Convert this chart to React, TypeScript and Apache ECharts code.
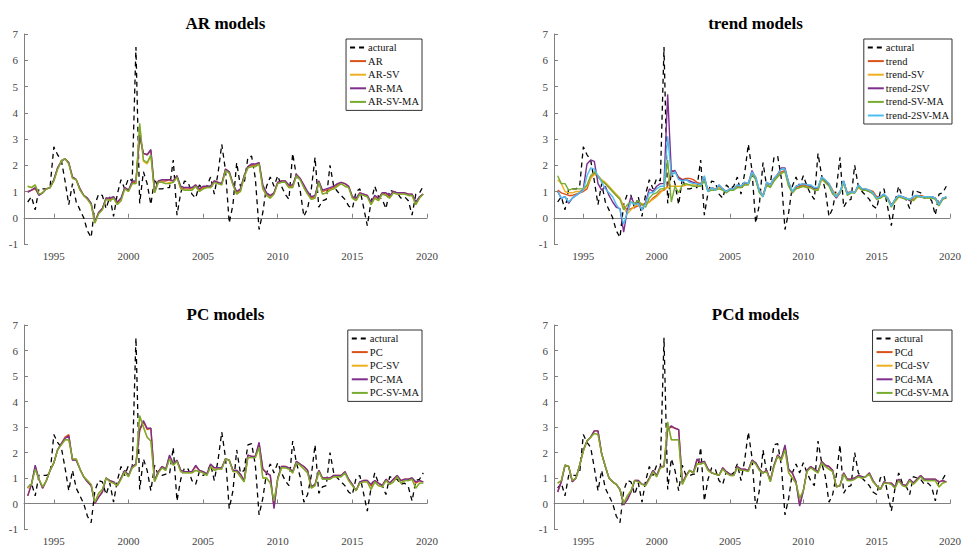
import React, { useEffect, useRef } from "react";
import * as echarts from "echarts";

// Quarterly observations, 1993Q2 .. 2019Q4 (plotted at year + (q-1)/4)
const startYear = 1993.25;
const xTicks = [1995, 2000, 2005, 2010, 2015, 2020];
const titles = ["AR models", "trend models", "PC models", "PCd models"];

const actual = [
  0.6, 0.8, 0.3,
  1.1, 1.1, 1.1, 1.2,
  2.7, 2.4, 2.2, 1.4,
  0.5, 1.3, 0.6, 0.3,
  0.0, -0.5, -0.75, 0.5,
  0.9, 0.85, 0.35, 0.8,
  0.05, 0.9, 1.45, 1.1,
  1.5, 1.4, 6.5, 0.55,
  1.75, 1.3, 0.5, 1.5,
  1.1, 1.1, 1.15, 1.15,
  2.2, 0.1, 0.95, 1.4,
  1.35, 0.9, 0.75, 1.25,
  1.1, 1.2, 1.55, 0.9,
  1.7, 2.8, 1.8, -0.2,
  0.5, 2.1, 1.2, 1.3,
  2.3, 2.35, 1.5, -0.45,
  0.2, 1.2, 1.55, 1.2,
  1.6, 1.2, 0.9, 0.7,
  2.45, 1.6, 1.05, 0.05,
  0.35, 1.1, 2.3, 0.4,
  0.65, 0.7, 2.0, 1.2,
  1.0, 0.85, 0.7, 0.45,
  0.35, 1.0, 1.1, 0.4,
  -0.3, 0.6, 1.2, 0.8,
  0.7, 0.35, 1.05, 1.0,
  0.95, 0.75, 0.8, 0.65,
  0.1, 0.9, 0.95, 1.2,
];

// ---- AR models ----
const arAR = [
  1.0, 1.05, 1.1,
  0.88, 0.95, 1.1, 1.15,
  1.45, 1.9, 2.15, 2.25,
  2.1, 1.55, 1.45, 1.1,
  0.85, 0.75, 0.55, -0.15,
  0.2, 0.35, 0.75, 0.7,
  0.8, 0.55, 0.7, 1.15,
  1.05, 1.35, 1.35, 3.1,
  2.45, 2.4, 2.55, 1.0,
  1.4, 1.4, 1.4, 1.45,
  1.4, 1.6, 1.15, 1.1,
  1.1, 1.1, 1.25, 1.05,
  1.15, 1.2, 1.2, 1.4,
  1.35, 1.3, 1.85, 1.75,
  1.3, 0.95, 1.05, 1.6,
  1.95, 2.0, 2.0, 2.1,
  1.2, 0.9, 0.8, 0.95,
  1.35, 1.4, 1.4, 1.2,
  1.2, 1.65, 1.5, 1.2,
  0.95, 0.75, 0.8, 1.4,
  1.0, 1.05, 1.1, 1.15,
  1.25, 1.35, 1.3, 1.2,
  0.8, 0.7, 0.95, 0.9,
  0.85, 0.55, 0.8, 0.7,
  0.95, 0.9, 0.8, 1.0,
  0.95, 0.95, 0.95, 0.9,
  0.9, 0.55, 0.8, 0.9,
];
const arSV = [
  1.2, 1.15, 1.25,
  0.9, 0.95, 1.1, 1.15,
  1.4, 1.85, 2.15, 2.25,
  2.05, 1.5, 1.45, 1.05,
  0.85, 0.7, 0.5, -0.2,
  0.15, 0.3, 0.7, 0.65,
  0.75, 0.5, 0.65, 1.1,
  1.0, 1.3, 1.3, 3.5,
  2.15, 2.05, 2.35, 0.95,
  1.35, 1.35, 1.3, 1.35,
  1.35, 1.55, 1.1, 1.05,
  1.05, 1.05, 1.2, 1.0,
  1.1, 1.15, 1.15, 1.35,
  1.3, 1.25, 1.8, 1.7,
  1.25, 0.9, 1.0, 1.55,
  1.9, 1.95, 1.95, 2.05,
  1.1, 0.85, 0.75, 0.9,
  1.3, 1.35, 1.35, 1.15,
  1.15, 1.6, 1.45, 1.15,
  0.9, 0.7, 0.75, 1.35,
  0.9, 0.95, 1.05, 1.1,
  1.2, 1.3, 1.2, 1.15,
  0.75, 0.65, 0.9, 0.85,
  0.8, 0.5, 0.75, 0.65,
  0.9, 0.85, 0.75, 0.95,
  0.9, 0.9, 0.9, 0.85,
  0.85, 0.5, 0.75, 0.9,
];
const arMA = [
  0.97, 1.05, 1.15,
  0.85, 0.95, 1.1, 1.15,
  1.45, 1.9, 2.15, 2.25,
  2.1, 1.55, 1.45, 1.1,
  0.85, 0.75, 0.55, -0.15,
  0.2, 0.35, 0.75, 0.75,
  0.8, 0.6, 0.75, 1.15,
  1.05, 1.4, 1.4, 3.15,
  2.45, 2.4, 2.6, 1.0,
  1.4, 1.45, 1.45, 1.45,
  1.4, 1.6, 1.2, 1.15,
  1.15, 1.15, 1.25, 1.1,
  1.2, 1.2, 1.2, 1.4,
  1.35, 1.3, 1.85, 1.75,
  1.3, 1.0, 1.1, 1.6,
  1.95, 2.05, 2.05, 2.1,
  1.25, 0.95, 0.85, 0.95,
  1.35, 1.4, 1.4, 1.25,
  1.25, 1.65, 1.5, 1.25,
  1.0, 0.8, 0.85, 1.4,
  1.05, 1.1, 1.15, 1.2,
  1.3, 1.35, 1.3, 1.2,
  0.8, 0.75, 0.95, 0.9,
  0.85, 0.6, 0.85, 0.75,
  0.95, 0.95, 0.85, 1.0,
  0.95, 0.95, 0.95, 0.9,
  0.9, 0.6, 0.8, 0.9,
];
const arSVMA = [
  1.2, 1.15, 1.25,
  0.9, 0.95, 1.1, 1.15,
  1.4, 1.85, 2.15, 2.25,
  2.05, 1.5, 1.45, 1.05,
  0.85, 0.7, 0.5, -0.2,
  0.15, 0.3, 0.7, 0.65,
  0.75, 0.5, 0.65, 1.1,
  1.0, 1.3, 1.3, 3.6,
  2.2, 2.1, 2.4, 0.95,
  1.35, 1.35, 1.3, 1.3,
  1.35, 1.55, 1.1, 1.05,
  1.05, 1.05, 1.2, 1.0,
  1.1, 1.15, 1.15, 1.35,
  1.3, 1.25, 1.8, 1.7,
  1.25, 0.9, 1.0, 1.55,
  1.9, 1.95, 1.95, 2.05,
  1.1, 0.85, 0.75, 0.9,
  1.3, 1.35, 1.35, 1.15,
  1.15, 1.6, 1.45, 1.15,
  0.9, 0.7, 0.75, 1.35,
  0.9, 0.95, 1.05, 1.1,
  1.2, 1.3, 1.2, 1.15,
  0.75, 0.65, 0.9, 0.85,
  0.8, 0.5, 0.75, 0.65,
  0.9, 0.85, 0.75, 0.95,
  0.9, 0.9, 0.9, 0.85,
  0.85, 0.5, 0.75, 0.9,
];

// ---- trend models ----
const trTrend = [
  1.05, 0.95, 0.9, 0.85,
  0.85, 0.9, 0.95, 1.0,
  1.1, 1.5, 1.7, 1.55,
  1.4, 1.3, 1.15, 1.0,
  0.85, 0.7, 0.45, 0.3,
  0.35, 0.4, 0.45, 0.5,
  0.55, 0.6, 0.75, 0.85,
  1.0, 1.05, 1.2, 1.8,
  1.75, 1.55, 1.45, 1.5,
  1.5, 1.45, 1.35, 1.3,
  1.5, 1.05, 1.15, 1.1,
  1.2, 1.1, 1.0, 1.1,
  1.1, 1.2, 1.2, 1.3,
  1.3, 1.7, 1.55, 1.05,
  0.85, 1.3, 1.25, 1.45,
  1.65, 1.75, 1.8, 1.35,
  1.0, 1.15, 1.2, 1.25,
  1.2, 1.2, 1.15, 1.1,
  1.5, 1.4, 1.3, 1.05,
  0.85, 1.0, 1.35, 0.95,
  1.0, 0.95, 1.2, 1.1,
  1.1, 1.05, 1.0, 0.8,
  0.8, 0.85, 0.75, 0.5,
  0.65, 0.8, 0.8, 0.75,
  0.7, 0.7, 0.8, 0.85,
  0.8, 0.8, 0.8, 0.75,
  0.55, 0.7, 0.8,
];
const trSV = [
  1.45, 1.3, 1.0, 0.95,
  0.95, 1.0, 1.0, 1.05,
  1.2, 1.5, 1.65, 1.6,
  1.45, 1.35, 1.2, 1.05,
  0.9, 0.75, 0.4, 0.15,
  0.3, 0.45, 0.5, 0.55,
  0.5, 0.6, 0.7, 0.8,
  0.95, 1.1, 1.15, 1.2,
  1.2, 1.2, 1.2, 1.25,
  1.25, 1.25, 1.25, 1.25,
  1.45, 1.05, 1.1, 1.1,
  1.15, 1.05, 1.0, 1.05,
  1.1, 1.15, 1.15, 1.25,
  1.3, 1.65, 1.5, 1.0,
  0.85, 1.25, 1.2, 1.4,
  1.6, 1.7, 1.75, 1.2,
  0.95, 1.1, 1.15, 1.2,
  1.15, 1.15, 1.1, 1.05,
  1.45, 1.35, 1.25, 1.0,
  0.85, 0.95, 1.3, 0.9,
  0.95, 0.95, 1.15, 1.05,
  1.05, 1.0, 0.95, 0.75,
  0.75, 0.85, 0.75, 0.45,
  0.6, 0.8, 0.8, 0.7,
  0.7, 0.65, 0.8, 0.8,
  0.8, 0.75, 0.75, 0.75,
  0.5, 0.7, 0.75,
];
const tr2SV = [
  1.0, 0.75, 0.8, 0.55,
  0.75, 0.85, 0.95, 1.1,
  2.05, 2.2, 2.15, 1.3,
  1.05, 1.2, 0.85, 0.6,
  0.4, 0.35, -0.55, 0.3,
  0.8, 0.5, 0.6, 0.3,
  0.6, 1.1, 1.0, 1.2,
  1.3, 1.3, 4.7, 1.75,
  1.8, 1.5, 1.45, 1.45,
  1.4, 1.35, 1.3, 1.25,
  1.55, 1.0, 1.15, 1.05,
  1.25, 1.1, 1.0, 1.1,
  1.1, 1.25, 1.2, 1.35,
  1.3, 1.8, 1.5, 1.0,
  0.8, 1.35, 1.25, 1.5,
  1.65, 1.9, 1.9, 1.3,
  0.95, 1.2, 1.25, 1.3,
  1.25, 1.2, 1.1, 1.15,
  1.55, 1.4, 1.25, 0.95,
  0.75, 0.95, 1.4, 0.9,
  1.0, 0.95, 1.25, 1.1,
  1.05, 1.0, 0.95, 0.75,
  0.8, 0.9, 0.75, 0.45,
  0.7, 0.85, 0.8, 0.75,
  0.65, 0.8, 0.85, 0.8,
  0.8, 0.8, 0.8, 0.75,
  0.5, 0.75, 0.75,
];
const trSVMA = [
  1.6, 1.3, 1.3, 1.05,
  1.1, 1.1, 1.1, 1.1,
  1.25, 1.6, 1.75, 1.6,
  1.4, 1.3, 1.15, 1.0,
  0.85, 0.7, 0.3, 0.5,
  0.6, 0.55, 0.65, 0.5,
  0.4, 0.75, 0.9, 0.95,
  1.1, 1.1, 2.2, 0.6,
  1.2, 0.95, 1.25, 1.3,
  1.25, 1.2, 1.2, 1.2,
  1.4, 1.0, 1.05, 1.05,
  1.1, 1.05, 0.95, 1.05,
  1.05, 1.15, 1.15, 1.25,
  1.25, 1.65, 1.45, 0.95,
  0.8, 1.25, 1.15, 1.4,
  1.55, 1.7, 1.75, 1.2,
  0.95, 1.1, 1.15, 1.2,
  1.15, 1.15, 1.05, 1.05,
  1.5, 1.35, 1.2, 0.9,
  0.8, 0.95, 1.35, 0.85,
  0.95, 0.95, 1.2, 1.05,
  1.05, 1.0, 0.9, 0.7,
  0.75, 0.85, 0.7, 0.4,
  0.65, 0.8, 0.75, 0.7,
  0.7, 0.65, 0.8, 0.8,
  0.75, 0.75, 0.75, 0.7,
  0.45, 0.7, 0.8,
];
const tr2SVMA = [
  1.0, 0.75, 0.8, 0.6,
  0.75, 0.85, 0.95, 1.05,
  1.6, 1.9, 1.85, 1.6,
  1.35, 1.1, 0.95, 0.8,
  0.5, 0.3, -0.25, 0.2,
  0.6, 0.5, 0.55, 0.3,
  0.55, 0.95, 0.95, 1.1,
  1.2, 1.2, 3.1, 1.6,
  1.75, 1.45, 1.4, 1.45,
  1.35, 1.3, 1.3, 1.25,
  1.6, 1.0, 1.15, 1.05,
  1.25, 1.1, 1.0, 1.1,
  1.1, 1.25, 1.2, 1.35,
  1.3, 1.75, 1.55, 1.05,
  0.8, 1.35, 1.25, 1.5,
  1.65, 1.85, 1.85, 1.35,
  1.0, 1.2, 1.25, 1.3,
  1.25, 1.25, 1.15, 1.15,
  1.55, 1.45, 1.3, 1.0,
  0.8, 1.0, 1.4, 0.9,
  1.0, 0.95, 1.25, 1.1,
  1.1, 1.05, 0.95, 0.75,
  0.8, 0.9, 0.75, 0.45,
  0.7, 0.85, 0.8, 0.75,
  0.7, 0.8, 0.85, 0.8,
  0.8, 0.8, 0.8, 0.75,
  0.5, 0.75, 0.8,
];

// ---- PC models ----
const pcPC = [
  0.3, 0.75, 1.45,
  0.95, 0.6, 0.9, 1.3,
  1.6, 2.1, 2.35, 2.6,
  2.7, 1.7, 1.7, 1.35,
  1.05, 0.85, 0.7, 0.0,
  0.25, 0.45, 1.0, 0.9,
  0.85, 0.7, 1.0, 1.3,
  1.1, 1.45, 1.55, 2.85,
  3.2, 2.9, 2.95, 0.9,
  1.25, 1.45, 1.35, 1.85,
  1.55, 1.7, 1.3, 1.25,
  1.25, 1.25, 1.45, 1.3,
  1.25, 1.15, 1.5, 1.4,
  1.4, 1.4, 1.75, 1.7,
  1.3, 1.3, 1.15, 0.9,
  1.9, 1.85, 1.85, 2.35,
  1.35, 1.2, 1.1, -0.15,
  1.0, 1.45, 1.45, 1.4,
  1.25, 1.65, 1.55, 1.45,
  1.3, 0.65, 0.75, 1.3,
  1.0, 1.0, 1.0, 1.1,
  1.1, 1.1, 1.25, 0.95,
  0.75, 0.5, 0.85, 0.9,
  0.9, 0.7, 0.9, 0.8,
  0.7, 0.95, 0.8, 0.95,
  1.1, 0.9, 0.95, 0.95,
  1.0, 0.8, 0.9, 0.85,
];
const pcSV = [
  0.6, 0.75, 1.35,
  0.95, 0.65, 0.9, 1.3,
  1.6, 2.1, 2.3, 2.5,
  2.5, 1.75, 1.75, 1.35,
  1.05, 0.9, 0.75, 0.05,
  0.4, 0.55, 1.0, 0.85,
  0.8, 0.7, 0.95, 1.25,
  1.05, 1.4, 1.5, 3.4,
  3.0, 2.6, 2.45, 0.85,
  1.2, 1.4, 1.3, 1.75,
  1.5, 1.65, 1.25, 1.2,
  1.2, 1.2, 1.3, 1.25,
  1.2, 1.1, 1.45, 1.3,
  1.35, 1.35, 1.75, 1.7,
  1.25, 1.25, 1.05, 0.85,
  1.8, 1.8, 1.8, 2.2,
  1.0, 1.0, 0.8, 0.1,
  0.95, 1.4, 1.4, 1.35,
  1.2, 1.6, 1.5, 1.35,
  1.2, 0.6, 0.7, 1.25,
  0.95, 0.95, 0.95, 1.05,
  1.05, 1.05, 1.2, 0.9,
  0.7, 0.5, 0.8, 0.85,
  0.85, 0.55, 0.85, 0.7,
  0.65, 0.9, 0.75, 0.85,
  1.05, 0.8, 0.9, 0.9,
  0.95, 0.6, 0.8, 0.8,
];
const pcMA = [
  0.3, 0.75, 1.5,
  0.95, 0.6, 0.9, 1.3,
  1.6, 2.1, 2.35, 2.55,
  2.65, 1.7, 1.7, 1.35,
  1.05, 0.85, 0.7, 0.0,
  0.25, 0.45, 1.0, 0.9,
  0.85, 0.7, 1.0, 1.3,
  1.1, 1.45, 1.55, 2.9,
  3.25, 2.95, 2.95, 0.9,
  1.25, 1.45, 1.35, 1.9,
  1.55, 1.7, 1.3, 1.25,
  1.25, 1.25, 1.5, 1.3,
  1.25, 1.15, 1.55, 1.4,
  1.4, 1.4, 1.75, 1.7,
  1.3, 1.3, 1.15, 0.9,
  1.9, 1.85, 1.85, 2.4,
  1.35, 1.2, 1.1, -0.2,
  1.0, 1.45, 1.45, 1.4,
  1.25, 1.65, 1.55, 1.45,
  1.3, 0.65, 0.75, 1.3,
  1.0, 1.0, 1.0, 1.1,
  1.1, 1.1, 1.25, 0.95,
  0.75, 0.5, 0.85, 0.9,
  0.9, 0.75, 0.9, 0.8,
  0.7, 0.95, 0.8, 0.95,
  1.1, 0.9, 0.95, 0.95,
  1.0, 0.85, 0.9, 0.85,
];
const pcSVMA = [
  0.65, 0.75, 1.35,
  0.95, 0.65, 0.9, 1.3,
  1.6, 2.1, 2.3, 2.5,
  2.5, 1.75, 1.75, 1.35,
  1.05, 0.9, 0.75, 0.05,
  0.4, 0.55, 1.0, 0.85,
  0.8, 0.7, 0.95, 1.25,
  1.05, 1.4, 1.5, 3.45,
  3.0, 2.6, 2.45, 0.85,
  1.2, 1.4, 1.3, 1.75,
  1.5, 1.65, 1.25, 1.2,
  1.2, 1.2, 1.3, 1.25,
  1.2, 1.1, 1.45, 1.3,
  1.35, 1.35, 1.75, 1.7,
  1.25, 1.25, 1.05, 0.85,
  1.8, 1.8, 1.8, 2.2,
  1.0, 1.0, 0.8, 0.1,
  0.95, 1.4, 1.4, 1.35,
  1.2, 1.6, 1.5, 1.35,
  1.2, 0.6, 0.7, 1.25,
  0.95, 0.95, 0.95, 1.05,
  1.05, 1.05, 1.2, 0.9,
  0.7, 0.5, 0.8, 0.85,
  0.85, 0.55, 0.85, 0.7,
  0.65, 0.9, 0.75, 0.85,
  1.05, 0.8, 0.9, 0.9,
  0.95, 0.6, 0.8, 0.8,
];

// ---- PCd models ----
const pcdPCd = [
  0.45, 0.85, 1.5,
  1.45, 0.85, 1.0, 1.5,
  2.1, 2.45, 2.6, 2.85,
  2.85, 1.95, 1.45, 1.0,
  0.85, 0.75, 0.55, -0.05,
  0.15, 0.45, 0.9, 0.9,
  0.75, 0.75, 1.0, 1.3,
  1.1, 1.45, 1.45, 2.9,
  3.0, 2.95, 2.9, 0.8,
  1.1, 1.3, 1.2, 1.7,
  1.6, 1.65, 1.35, 1.2,
  1.15, 1.1, 1.4, 1.25,
  1.15, 1.1, 1.45, 1.35,
  1.35, 1.3, 1.7, 1.6,
  1.35, 1.2, 1.3, 0.9,
  1.5, 1.9, 1.75, 2.25,
  1.3, 1.2, 0.85, -0.05,
  0.5, 1.3, 1.45, 1.35,
  1.25, 1.65, 1.5, 1.45,
  1.3, 0.65, 0.7, 1.2,
  0.95, 0.95, 1.0, 1.1,
  1.05, 1.05, 1.2, 0.9,
  0.7, 0.55, 0.85, 0.8,
  0.8, 0.65, 0.95, 0.75,
  0.7, 0.95, 0.8, 0.95,
  1.1, 0.95, 0.95, 0.95,
  0.95, 0.85, 0.9, 0.85,
];
const pcdSV = [
  0.8, 0.9, 1.5,
  1.45, 0.9, 1.0, 1.5,
  2.05, 2.45, 2.6, 2.75,
  2.7, 1.95, 1.45, 1.0,
  0.85, 0.75, 0.55, 0.0,
  0.3, 0.5, 0.9, 0.85,
  0.75, 0.7, 0.95, 1.25,
  1.05, 1.4, 1.45, 3.15,
  2.5, 2.5, 2.5, 0.75,
  1.05, 1.3, 1.2, 1.55,
  1.55, 1.6, 1.3, 1.2,
  1.15, 1.1, 1.35, 1.2,
  1.1, 1.1, 1.4, 1.3,
  1.3, 1.25, 1.65, 1.55,
  1.3, 1.2, 1.25, 0.85,
  1.45, 1.85, 1.7, 2.1,
  1.2, 1.0, 0.8, 0.2,
  0.5, 1.25, 1.4, 1.3,
  1.2, 1.6, 1.45, 1.35,
  1.25, 0.65, 0.7, 1.15,
  0.9, 0.9, 0.95, 1.05,
  1.0, 1.05, 1.15, 0.85,
  0.7, 0.55, 0.8, 0.8,
  0.75, 0.6, 0.9, 0.7,
  0.65, 0.9, 0.75, 0.9,
  1.05, 0.9, 0.9, 0.9,
  0.9, 0.65, 0.8, 0.85,
];
const pcdMA = [
  0.45, 0.85, 1.5,
  1.45, 0.85, 1.0, 1.5,
  2.1, 2.45, 2.6, 2.85,
  2.85, 1.95, 1.45, 1.0,
  0.85, 0.75, 0.55, -0.05,
  0.15, 0.45, 0.9, 0.9,
  0.75, 0.75, 1.0, 1.3,
  1.1, 1.45, 1.45, 2.9,
  3.05, 2.95, 2.9, 0.8,
  1.1, 1.3, 1.2, 1.75,
  1.6, 1.65, 1.35, 1.2,
  1.15, 1.1, 1.4, 1.25,
  1.15, 1.1, 1.45, 1.35,
  1.35, 1.3, 1.7, 1.6,
  1.35, 1.2, 1.3, 0.9,
  1.5, 1.9, 1.75, 2.3,
  1.35, 1.2, 0.85, -0.1,
  0.5, 1.3, 1.45, 1.35,
  1.25, 1.65, 1.5, 1.45,
  1.3, 0.65, 0.7, 1.2,
  0.95, 0.95, 1.0, 1.1,
  1.05, 1.05, 1.2, 0.9,
  0.7, 0.55, 0.85, 0.8,
  0.8, 0.65, 0.95, 0.75,
  0.7, 0.95, 0.8, 0.95,
  1.1, 0.95, 0.95, 0.95,
  0.95, 0.85, 0.9, 0.85,
];
const pcdSVMA = [
  0.8, 0.9, 1.5,
  1.45, 0.9, 1.0, 1.5,
  2.05, 2.45, 2.6, 2.75,
  2.7, 1.95, 1.45, 1.0,
  0.85, 0.75, 0.55, 0.0,
  0.3, 0.5, 0.9, 0.85,
  0.75, 0.7, 0.95, 1.25,
  1.05, 1.4, 1.45, 3.2,
  2.5, 2.5, 2.5, 0.75,
  1.05, 1.3, 1.2, 1.55,
  1.55, 1.6, 1.3, 1.2,
  1.15, 1.1, 1.35, 1.2,
  1.1, 1.1, 1.4, 1.3,
  1.3, 1.25, 1.65, 1.55,
  1.3, 1.2, 1.25, 0.85,
  1.45, 1.85, 1.7, 2.1,
  1.2, 1.0, 0.8, 0.2,
  0.5, 1.25, 1.4, 1.3,
  1.2, 1.6, 1.45, 1.35,
  1.25, 0.65, 0.7, 1.15,
  0.9, 0.9, 0.95, 1.05,
  1.0, 1.05, 1.15, 0.85,
  0.7, 0.55, 0.8, 0.8,
  0.75, 0.6, 0.9, 0.7,
  0.65, 0.9, 0.75, 0.9,
  1.05, 0.9, 0.9, 0.9,
  0.9, 0.65, 0.8, 0.85,
];

const C_RED = "#D95319";
const C_YEL = "#EDB120";
const C_PUR = "#7E2F8E";
const C_GRN = "#77AC30";
const C_BLU = "#4DBEEE";

const panels = [
  { title: titles[0], series: [["AR", arAR, C_RED], ["AR-SV", arSV, C_YEL], ["AR-MA", arMA, C_PUR], ["AR-SV-MA", arSVMA, C_GRN]] },
  { title: titles[1], series: [["trend", trTrend, C_RED], ["trend-SV", trSV, C_YEL], ["trend-2SV", tr2SV, C_PUR], ["trend-SV-MA", trSVMA, C_GRN], ["trend-2SV-MA", tr2SVMA, C_BLU]] },
  { title: titles[2], series: [["PC", pcPC, C_RED], ["PC-SV", pcSV, C_YEL], ["PC-MA", pcMA, C_PUR], ["PC-SV-MA", pcSVMA, C_GRN]] },
  { title: titles[3], series: [["PCd", pcdPCd, C_RED], ["PCd-SV", pcdSV, C_YEL], ["PCd-MA", pcdMA, C_PUR], ["PCd-SV-MA", pcdSVMA, C_GRN]] },
];

const FONT = "Liberation Serif";

const gridPos = [
  { left: 24, top: 34 },
  { left: 554, top: 34 },
  { left: 24, top: 325 },
  { left: 554, top: 325 },
];
const GW = 403;
const GH = 210;

const legendPos = [
  { right: 542, top: 39 },
  { right: 12, top: 39 },
  { right: 542, top: 330 },
  { right: 12, top: 330 },
];

function pairs(vals: number[]) {
  return vals.map((v, i) => [startYear + i * 0.25, v]);
}

export default function App() {
  const ref = useRef<HTMLDivElement>(null);
  useEffect(() => {
    if (!ref.current) return;
    const chart = echarts.init(ref.current, undefined, { renderer: "svg" });
    const grids: any[] = [];
    const xAxes: any[] = [];
    const yAxes: any[] = [];
    const series: any[] = [];
    const legends: any[] = [];
    const graphics: any[] = [];
    panels.forEach((p, k) => {
      grids.push({ left: gridPos[k].left, top: gridPos[k].top, width: GW, height: GH, containLabel: false });
      xAxes.push({
        type: "value", gridIndex: k, min: 1993, max: 2020,
        axisLine: { show: true, lineStyle: { color: "#808080", width: 1 } },
        axisTick: { show: true, inside: true, length: 4, customValues: xTicks, lineStyle: { color: "#808080" } },
        axisLabel: {
          show: true, customValues: xTicks, color: "#444", fontFamily: FONT, fontSize: 11, margin: 6,
          formatter: (v: number) => String(v),
        },
        splitLine: { show: false },
      });
      yAxes.push({
        type: "value", gridIndex: k, min: -1, max: 7, interval: 1,
        axisLine: { show: true, lineStyle: { color: "#808080", width: 1 } },
        axisTick: { show: true, inside: true, length: 4, lineStyle: { color: "#808080" } },
        axisLabel: { color: "#444", fontFamily: FONT, fontSize: 11, margin: 6, formatter: (v: number) => String(v) },
        splitLine: { show: false },
      });
      series.push({
        type: "line", name: "actural", xAxisIndex: k, yAxisIndex: k, data: pairs(actual),
        symbol: "none", showSymbol: false,
        lineStyle: { color: "#000", width: 1.3, type: [5, 4] }, itemStyle: { color: "#000" }, z: 2,
      });
      p.series.forEach(([name, vals, color]: any, j: number) => {
        series.push({
          type: "line", name, xAxisIndex: k, yAxisIndex: k, data: pairs(vals),
          symbol: "none", showSymbol: false,
          lineStyle: { color, width: 1.4 }, itemStyle: { color }, z: 3 + j,
        });
      });
      legends.push({
        ...legendPos[k], orient: "vertical",
        data: ["actural", ...p.series.map((s: any) => s[0])],
        itemWidth: 16, itemHeight: 9, itemGap: 2.6, padding: [3, 3, 3, 3],
        borderColor: "#333", borderWidth: 1, backgroundColor: "#fff",
        itemStyle: { opacity: 0 },
        textStyle: { fontFamily: FONT, fontSize: 10.5, color: "#111", padding: [0, 0, 0, -3] },
        selectedMode: false,
      });
      graphics.push({
        type: "text", x: gridPos[k].left + GW / 2, y: gridPos[k].top - 11,
        style: { text: p.title, font: `bold 17px ${FONT}`, fill: "#000", align: "center", verticalAlign: "middle" },
      });
    });
    chart.setOption({
      animation: false,
      backgroundColor: "#fff",
      grid: grids,
      xAxis: xAxes,
      yAxis: yAxes,
      series,
      legend: legends,
      graphic: graphics,
    });
    return () => chart.dispose();
  }, []);
  return <div ref={ref} style={{ position: "absolute", left: 0, top: 0, width: 964, height: 546 }} />;
}
